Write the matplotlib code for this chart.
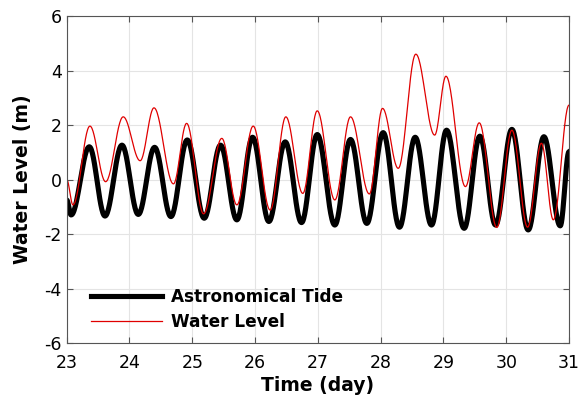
import numpy as np
import matplotlib.pyplot as plt

plt.rcParams['axes.unicode_minus'] = False

# Extrema (time in days, level in m)
tide_t = [23.00, 23.07, 23.36, 23.61, 23.88, 24.14, 24.40, 24.66, 24.92, 25.19,
          25.45, 25.71, 25.96, 26.22, 26.48, 26.74, 26.99, 27.27, 27.52, 27.78,
          28.04, 28.30, 28.55, 28.81, 29.05, 29.33, 29.58, 29.83, 30.09, 30.35,
          30.60, 30.86, 31.00]
tide_v = [-0.75, -1.30, 1.20, -1.34, 1.26, -1.28, 1.18, -1.36, 1.45, -1.42,
          1.26, -1.48, 1.55, -1.54, 1.38, -1.58, 1.65, -1.67, 1.47, -1.61,
          1.72, -1.75, 1.55, -1.67, 1.81, -1.79, 1.59, -1.67, 1.84, -1.85,
          1.57, -1.70, 1.02]

level_t = [23.00, 23.10, 23.37, 23.62, 23.90, 24.17, 24.39, 24.70, 24.91, 25.18,
           25.47, 25.71, 25.97, 26.24, 26.49, 26.76, 26.99, 27.27, 27.52, 27.82,
           28.03, 28.28, 28.56, 28.86, 29.04, 29.35, 29.57, 29.85, 30.09, 30.34,
           30.56, 30.75, 31.00]
level_v = [0.00, -0.93, 1.96, -0.08, 2.30, 0.69, 2.63, -0.16, 2.06, -1.26,
           1.51, -0.93, 1.96, -1.12, 2.30, -0.51, 2.52, -0.75, 2.30, -0.53,
           2.61, 0.41, 4.60, 1.63, 3.79, -0.26, 2.08, -1.76, 1.81, -1.75,
           1.33, -1.48, 2.73]

x_ticks = [23, 24, 25, 26, 27, 28, 29, 30, 31]
y_ticks = [-6, -4, -2, 0, 2, 4, 6]


# Join successive extrema with half-cosine segments so the curve looks like a tide
def smooth_path(t, v, n=30):
    xs, ys = [], []
    for i in range(len(t) - 1):
        s = np.linspace(0, 1, n, endpoint=False)
        w = (1 - np.cos(np.pi * s)) / 2
        xs.append(t[i] + (t[i + 1] - t[i]) * s)
        ys.append(v[i] + (v[i + 1] - v[i]) * w)
    xs.append([t[-1]])
    ys.append([v[-1]])
    return np.concatenate(xs), np.concatenate(ys)


fig = plt.figure(figsize=(5.82, 4.05), dpi=100)
ax = fig.add_axes([0.1146, 0.153, 0.8631, 0.8075])

tx, ty = smooth_path(tide_t, tide_v)
lx, ly = smooth_path(level_t, level_v)
ax.plot(tx, ty, color='black', linewidth=3.7, label='Astronomical Tide')
ax.plot(lx, ly, color='#e00000', linewidth=0.9, label='Water Level')

ax.set_xlim(23, 31)
ax.set_ylim(-6, 6)
ax.set_xticks(x_ticks)
ax.set_yticks(y_ticks)
ax.grid(True, color='#e4e4e4', linewidth=0.8)
ax.set_axisbelow(True)
ax.tick_params(direction='in', top=True, right=True, labelsize=12.5,
               color='#555555', length=4)
ax.tick_params(axis='x', pad=8)
for sp in ax.spines.values():
    sp.set_color('#555555')

ax.set_xlabel('Time (day)', fontsize=13.5, fontweight='bold', labelpad=3)
ax.set_ylabel('Water Level (m)', fontsize=13.5, fontweight='bold', labelpad=9)

leg = ax.legend(loc='lower left', frameon=False, handlelength=4.2,
                handletextpad=0.5,
                prop={'weight': 'bold', 'size': 12.2}, borderaxespad=0.3,
                labelspacing=0.45, bbox_to_anchor=(0.025, 0.0))

fig.savefig('out.png', dpi=100)
